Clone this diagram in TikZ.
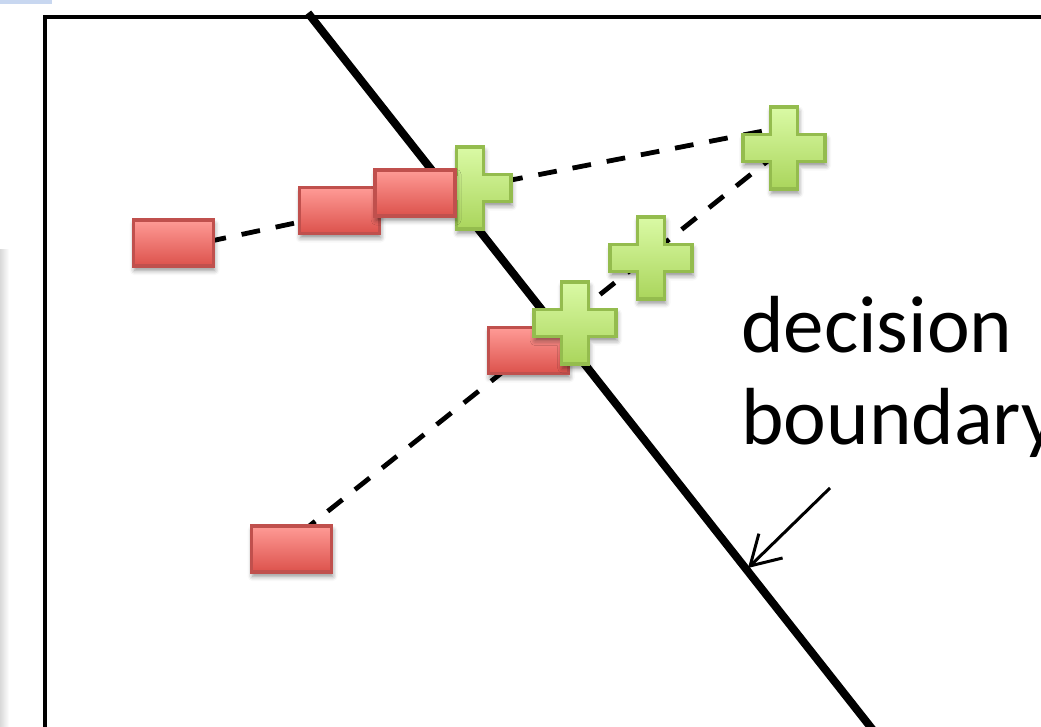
\documentclass[tikz,border=0pt]{standalone}
\usepackage{fontspec}
\newfontfamily\labelfont{Carlito}
\usetikzlibrary{calc}
\usetikzlibrary{arrows.meta}
\usetikzlibrary{shadows.blur}

\definecolor{barred}{RGB}{192,80,77}
\definecolor{bartop}{RGB}{255,155,150}
\definecolor{barbot}{RGB}{220,82,76}
\definecolor{plusgreen}{RGB}{148,188,78}
\definecolor{plustop}{RGB}{218,250,165}
\definecolor{plusbot}{RGB}{170,213,92}
\definecolor{slideblue}{RGB}{200,215,240}

\pgfdeclarelayer{background}
\pgfsetlayers{background,main}

\tikzset{
  softshadow/.style={blur shadow={shadow xshift=0.8pt, shadow yshift=-3pt, shadow blur radius=3.5pt, shadow opacity=45}},
  negbar/.style={rectangle, draw=barred, line width=0.09cm, top color=bartop, bottom color=barbot,
    minimum width=2.0cm, minimum height=1.15cm, inner sep=0pt, softshadow},
  possign/.style={draw=plusgreen, line width=0.09cm, top color=plustop, bottom color=plusbot, softshadow},
  pairline/.style={dash pattern=on 0.47cm off 0.4cm, line width=0.12cm},
}

% plus sign around a named coordinate
\newcommand{\possignat}[1]{%
  \path[possign] ($(#1)+(-13.5,-41)$) -- ++(27,0) -- ++(0,27.5) -- ++(27.5,0) -- ++(0,27)
    -- ++(-27.5,0) -- ++(0,27.5) -- ++(-27,0) -- ++(0,-27.5) -- ++(-27.5,0) -- ++(0,-27)
    -- ++(27.5,0) -- cycle;}

\begin{document}
\begin{tikzpicture}[x=0.025cm, y=-0.025cm]
    \useasboundingbox (0,0) rectangle (1041,727);

    %points
    \coordinate (p1) at (470,188);
    \coordinate (p2) at (784,148);
    \coordinate (p3) at (651,258);
    \coordinate (p4) at (575,323);
    \node[negbar] (r1) at (173.5,243) {};
    \node[negbar] (r2) at (339.5,210.5) {};
    \possignat{p1}
    \node[negbar] (r3) at (415,193) {};
    \possignat{p2}
    \possignat{p3}
    \node[negbar] (r4) at (528.5,350.5) {};
    \possignat{p4}
    \node[negbar] (r5) at (291.5,549) {};

    \begin{pgfonlayer}{background}
    %slide edges
    \fill[slideblue] (0,0) rectangle (52,4);
    \fill[left color=gray!30, right color=white] (0,250) rectangle (9,727);

    %frame and boundary
    \draw[line width=0.1cm] (45,745) -- (45,17) -- (1060,17);
    \draw[line width=0.2cm] (308,13) -- (880,739);

    %pairs
    \draw[pairline] ($(r1)+(0,6)$) -- ($(r2)+(0,3)$);
    \draw[pairline] (p1) -- ($(p2)+(0,-21)$);
    \draw[pairline] ($(r5)+(9,-16)$) -- (p2);
    \end{pgfonlayer}

    %label
    \node[font=\labelfont\fontsize{57.6}{66}\selectfont, align=left, anchor=base west, inner sep=0pt]
      (lbl) at (741,445) {decision\\boundary};
    \coordinate (tail) at (830,488);
    \coordinate (tip) at (748,568);
    \draw[line width=0.075cm, -{Straight Barb[length=0.72cm, width=0.85cm]}] (tail) -- (tip);
\end{tikzpicture}
\end{document}
